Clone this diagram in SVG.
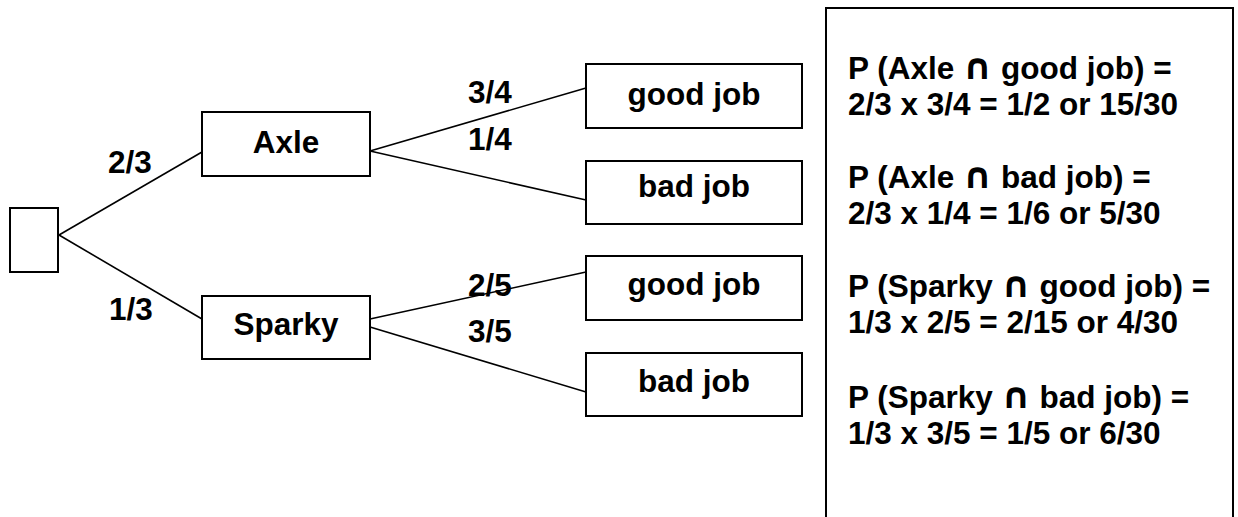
<svg xmlns="http://www.w3.org/2000/svg" width="1238" height="517" viewBox="0 0 1238 517">
<style>
.box{fill:#fff;stroke:#000;stroke-width:2}
.con line{stroke:#000;stroke-width:1.6}
text{font-family:"Liberation Sans",Arial,sans-serif;font-weight:bold;font-size:31.5px;fill:#000}
.c{text-anchor:middle}
.cap{font-family:"DejaVu Sans",sans-serif;font-weight:bold;font-size:36px}
</style>
<rect width="1238" height="517" fill="#fff"/>
<g id="connectors" class="con">
<line x1="59" y1="235" x2="202" y2="152"/>
<line x1="59" y1="235" x2="202" y2="319"/>
<line x1="370" y1="151" x2="586" y2="88"/>
<line x1="370" y1="151" x2="586" y2="200"/>
<line x1="370" y1="319" x2="586" y2="272"/>
<line x1="370" y1="327" x2="586" y2="392"/>
</g>
<g id="root"><rect class="box" x="10" y="208" width="48" height="64"/></g>
<g id="axle"><rect class="box" x="202" y="112" width="168" height="64"/><text class="c" x="286" y="153">Axle</text></g>
<g id="sparky"><rect class="box" x="202" y="296" width="168" height="63"/><text class="c" x="286" y="335">Sparky</text></g>
<g id="axle-good"><rect class="box" x="586" y="64" width="216" height="64"/><text class="c" x="694" y="105">good job</text></g>
<g id="axle-bad"><rect class="box" x="586" y="161" width="216" height="63"/><text class="c" x="694" y="197">bad job</text></g>
<g id="sparky-good"><rect class="box" x="586" y="256" width="216" height="64"/><text class="c" x="694" y="295">good job</text></g>
<g id="sparky-bad"><rect class="box" x="586" y="353" width="216" height="63"/><text class="c" x="694" y="392">bad job</text></g>
<g id="labels">
<text x="108" y="173">2/3</text>
<text x="109" y="320">1/3</text>
<text x="468" y="103">3/4</text>
<text x="468" y="150">1/4</text>
<text x="468" y="296">2/5</text>
<text x="468" y="342">3/5</text>
</g>
<g id="results">
<rect class="box" x="826" y="8" width="407" height="520"/>
<text x="848" y="79">P (Axle <tspan class="cap">∩</tspan> good job) =</text>
<text x="848" y="115">2/3 x 3/4 = 1/2 or 15/30</text>
<text x="848" y="188">P (Axle <tspan class="cap">∩</tspan> bad job) =</text>
<text x="848" y="224">2/3 x 1/4 = 1/6 or 5/30</text>
<text x="848" y="297">P (Sparky <tspan class="cap">∩</tspan> good job) =</text>
<text x="848" y="333">1/3 x 2/5 = 2/15 or 4/30</text>
<text x="848" y="408">P (Sparky <tspan class="cap">∩</tspan> bad job) =</text>
<text x="848" y="444">1/3 x 3/5 = 1/5 or 6/30</text>
</g>
</svg>
